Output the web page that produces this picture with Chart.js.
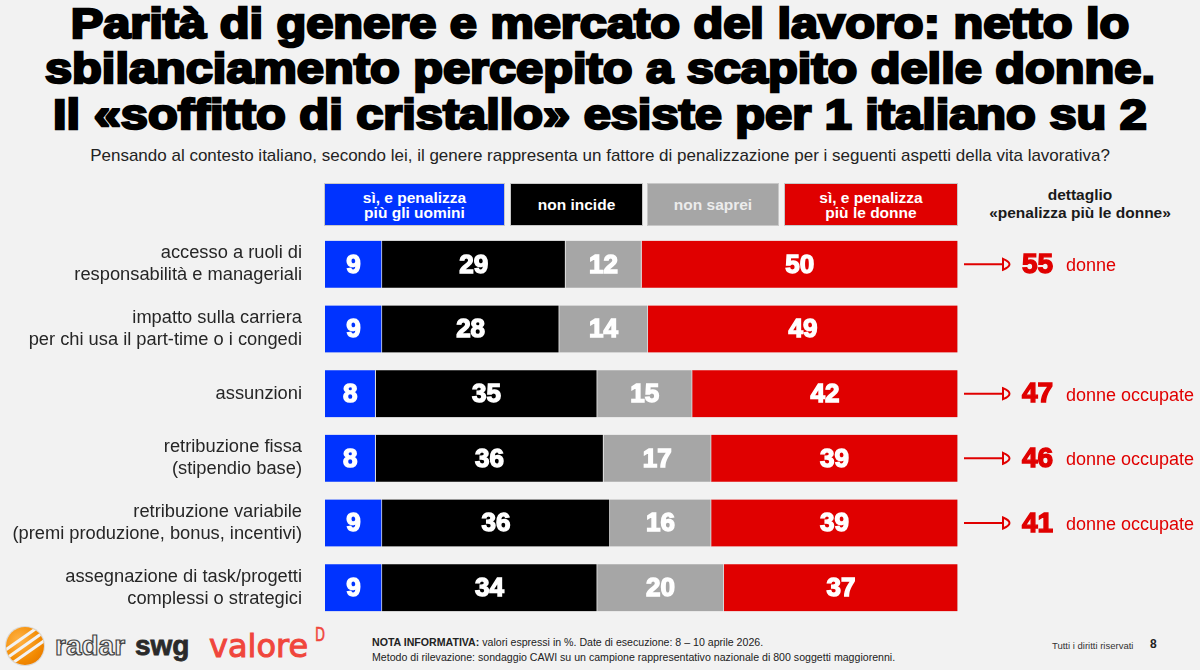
<!DOCTYPE html>
<html>
<head>
<meta charset="utf-8">
<script src="https://cdn.jsdelivr.net/npm/chart.js@4"></script>
<style>
  html, body { margin: 0; padding: 0; }
  body { width: 1200px; height: 670px; background: #f2f2f2; position: relative; overflow: hidden;
         font-family: "Liberation Sans", Arial, sans-serif; }
  .tline { position: absolute; left: 0; width: 1200px; text-align: center; white-space: nowrap;
           font-weight: bold; font-size: 42px; line-height: 46px; color: #000;
           -webkit-text-stroke: 2.4px #000; transform: scaleX(1.16); transform-origin: 600px 0; }
  .subtitle { position: absolute; left: 0; top: 146px; width: 1200px; text-align: center;
              font-size: 17px; color: #222; }
  .leg { position: absolute; top: 183px; height: 43px; display: flex; align-items: center; justify-content: center;
         text-align: center; color: #fff; font-weight: bold; font-size: 15.5px; line-height: 15px;
         box-sizing: border-box; border: 1px solid #c8c8c8; }
  .detail-head { position: absolute; left: 970px; top: 186px; width: 220px; text-align: center;
                 font-weight: bold; font-size: 15.5px; line-height: 18px; color: #1a1a1a; }
  #wrap { position: absolute; left: 0; top: 232px; width: 1200px; height: 388px; }
  .note { position: absolute; left: 372px; top: 635px; font-size: 10.6px; line-height: 15px; color: #222; }
  .rights { position: absolute; left: 1052px; top: 640px; font-size: 9.5px; color: #333; }
  .page { position: absolute; left: 1150px; top: 637px; font-size: 12px; font-weight: bold; color: #222; }
  .swg-globe { position: absolute; left: 6px; top: 627px; width: 38px; height: 38px; border-radius: 50%;
               background: radial-gradient(circle at 35% 35%, #ffb347, #f28a00 60%, #e06f00); overflow: hidden;
               box-shadow: 0 0 0 1px #d8d8d8; }
  .swg-globe i { position: absolute; left: -10px; width: 60px; height: 2.5px; background: #f2f2f2; transform: rotate(-35deg); }
  .radar { position: absolute; left: 55px; top: 630px; font-size: 28px; font-weight: bold; color: #f2f2f2;
           -webkit-text-stroke: 1.2px #444; }
  .swg { position: absolute; left: 135px; top: 630px; font-size: 28px; font-weight: bold; color: #2a2a2a;
         -webkit-text-stroke: 0.8px #2a2a2a; }
  .valore { position: absolute; left: 209px; top: 627px; font-size: 32px; color: #f0463c;
            font-family: "DejaVu Sans", sans-serif; -webkit-text-stroke: 1px #f0463c; }
  .valoreD { position: absolute; left: 315px; top: 622px; font-size: 20px; color: #f0463c;
             font-family: "DejaVu Sans", sans-serif; transform: scaleX(0.65); transform-origin: 0 0;
             -webkit-text-stroke: 0.6px #f0463c; }
</style>
</head>
<body>
<div class="tline" style="top:1px">Parità di genere e mercato del lavoro: netto lo</div>
<div class="tline" style="top:46px">sbilanciamento percepito a scapito delle donne.</div>
<div class="tline" style="top:92px">Il «soffitto di cristallo» esiste per 1 italiano su 2</div>
<div class="subtitle">Pensando al contesto italiano, secondo lei, il genere rappresenta un fattore di penalizzazione per i seguenti aspetti della vita lavorativa?</div>

<div class="leg" style="left:324px;width:181px;background:#0033ff;">sì, e penalizza<br>più gli uomini</div>
<div class="leg" style="left:510px;width:133px;background:#000;">non incide</div>
<div class="leg" style="left:647px;width:132px;background:#a6a6a6;color:#ececec;">non saprei</div>
<div class="leg" style="left:784px;width:174px;background:#e00000;">sì, e penalizza<br>più le donne</div>

<div class="detail-head">dettaglio<br>«penalizza più le donne»</div>

<div id="wrap"><canvas id="chart"></canvas></div>

<div class="swg-globe"><i style="top:7px"></i><i style="top:16px"></i><i style="top:25px"></i></div>
<div class="radar">radar</div>
<div class="swg">swg</div>
<div class="valore">valore</div>
<div class="valoreD">D</div>

<div class="note"><b>NOTA INFORMATIVA:</b> valori espressi in %. Date di esecuzione: 8 – 10 aprile 2026.<br>Metodo di rilevazione: sondaggio CAWI su un campione rappresentativo nazionale di 800 soggetti maggiorenni.</div>
<div class="rights">Tutti i diritti riservati</div>
<div class="page">8</div>

<script>
const categories = [
  ['accesso a ruoli di', 'responsabilità e manageriali'],
  ['impatto sulla carriera', 'per chi usa il part-time o i congedi'],
  ['assunzioni'],
  ['retribuzione fissa', '(stipendio base)'],
  ['retribuzione variabile', '(premi produzione, bonus, incentivi)'],
  ['assegnazione di task/progetti', 'complessi o strategici']
];
const seriesNames = ['sì, e penalizza più gli uomini', 'non incide', 'non saprei', 'sì, e penalizza più le donne'];
const penalizzaUomini = [9, 9, 8, 8, 9, 9];
const nonIncide = [29, 28, 35, 36, 36, 34];
const nonSaprei = [12, 14, 15, 17, 16, 20];
const penalizzaDonne = [50, 49, 42, 39, 39, 37];
const detailValues = [55, null, 47, 46, 41, null];
const detailLabels = ['donne', '', 'donne occupate', 'donne occupate', 'donne occupate', ''];

const colors = ['#0033ff', '#000000', '#a6a6a6', '#e00000'];
const seriesData = [penalizzaUomini, nonIncide, nonSaprei, penalizzaDonne];

const valueLabels = {
  id: 'valueLabels',
  afterDatasetsDraw(chart) {
    const ctx = chart.ctx;
    ctx.save();
    ctx.fillStyle = '#fff';
    ctx.strokeStyle = '#fff';
    ctx.lineWidth = 1.4;
    ctx.font = 'bold 26px "Liberation Sans", Arial, sans-serif';
    ctx.textAlign = 'center';
    ctx.textBaseline = 'middle';
    chart.data.datasets.forEach((ds, di) => {
      chart.getDatasetMeta(di).data.forEach((bar, i) => {
        const x = (bar.x + bar.base) / 2;
        ctx.fillText(String(ds.data[i]), x, bar.y + 1);
        ctx.strokeText(String(ds.data[i]), x, bar.y + 1);
      });
    });
    ctx.restore();
  }
};

const detailArrows = {
  id: 'detailArrows',
  afterDatasetsDraw(chart) {
    const ctx = chart.ctx;
    const yScale = chart.scales.y;
    ctx.save();
    detailValues.forEach((v, i) => {
      if (v == null) return;
      const y = yScale.getPixelForValue(i);
      ctx.strokeStyle = '#e00000';
      ctx.fillStyle = '#e00000';
      ctx.lineWidth = 2;
      ctx.beginPath();
      ctx.moveTo(964, y);
      ctx.lineTo(1003, y);
      ctx.stroke();
      ctx.beginPath();
      ctx.moveTo(1003, y - 5.5);
      ctx.quadraticCurveTo(1016, y, 1003, y + 5.5);
      ctx.closePath();
      ctx.stroke();
      ctx.textBaseline = 'middle';
      ctx.textAlign = 'left';
      ctx.font = 'bold 28px "Liberation Sans", Arial, sans-serif';
      ctx.lineWidth = 1.4;
      ctx.fillText(String(v), 1022, y + 1);
      ctx.strokeText(String(v), 1022, y + 1);
      ctx.font = '18px "Liberation Sans", Arial, sans-serif';
      ctx.fillText(detailLabels[i], 1066, y + 2);
    });
    ctx.restore();
  }
};

new Chart(document.getElementById('chart'), {
  type: 'bar',
  data: {
    labels: categories,
    datasets: seriesNames.map((name, k) => ({
      label: name,
      data: seriesData[k],
      backgroundColor: colors[k],
      borderColor: '#dcdcdc',
      borderWidth: { right: 1 },
      borderSkipped: false,
      barThickness: 47
    }))
  },
  options: {
    indexAxis: 'y',
    responsive: true,
    maintainAspectRatio: false,
    animation: false,
    layout: { padding: { left: 0, right: 242, top: 0, bottom: 0 } },
    scales: {
      x: { stacked: true, min: 0, max: 100, display: false },
      y: {
        stacked: true,
        grid: { display: false, drawTicks: false },
        border: { display: false },
        ticks: {
          color: '#262626',
          padding: 23,
          font: { size: 18.3, family: '"Liberation Sans", Arial, sans-serif', lineHeight: 1.2 }
        },
        afterFit(scale) {
          scale.width = 325;
          scale.paddingTop = 0;
          scale.paddingBottom = 0;
        }
      }
    },
    plugins: {
      legend: { display: false },
      tooltip: { enabled: false }
    }
  },
  plugins: [valueLabels, detailArrows]
});
</script>
</body>
</html>
